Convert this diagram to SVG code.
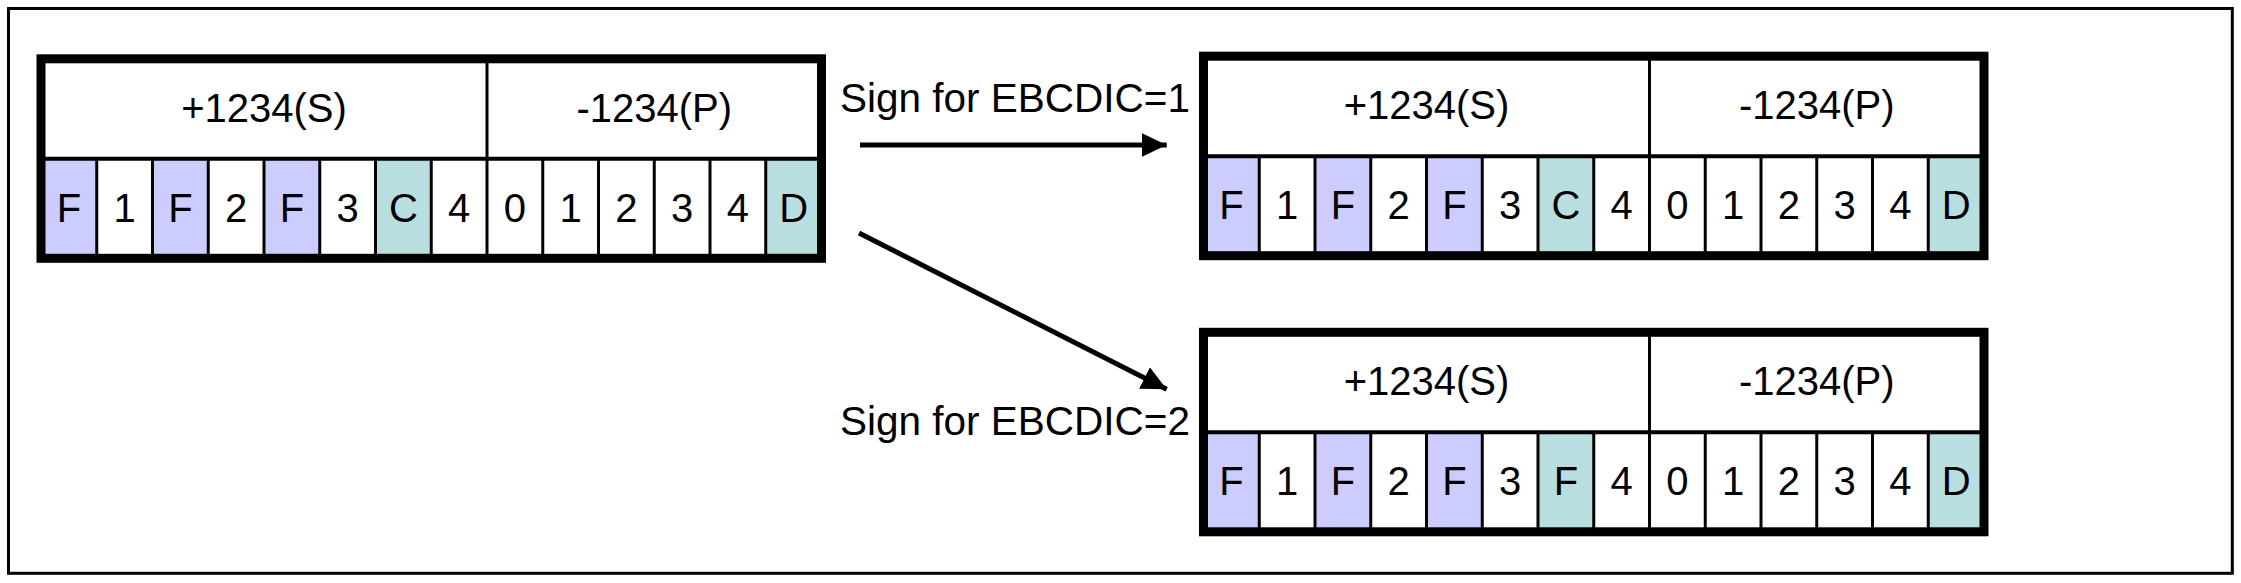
<svg xmlns="http://www.w3.org/2000/svg" width="2241" height="583" viewBox="0 0 2241 583">
<style>
.bg{fill:#ffffff}
.frame{fill:none;stroke:#000;stroke-width:3}
.outer{fill:none;stroke:#000;stroke-width:9}
.hdiv{stroke:#000;stroke-width:4}
.div{stroke:#000;stroke-width:3}
.lav{fill:#CCCCFF}
.teal{fill:#B8DEE0}
.t{font-family:"Liberation Sans",Arial,sans-serif;font-size:40px;fill:#000;text-anchor:middle}
.lbl{font-family:"Liberation Sans",Arial,sans-serif;font-size:40.5px;fill:#000}
.conn{stroke:#000;stroke-width:5;fill:none}
</style>
<defs>
<marker id="ah" markerUnits="userSpaceOnUse" markerWidth="26" markerHeight="24" refX="25" refY="12" orient="auto" viewBox="0 0 26 24">
<path d="M0,0 L25,12 L0,24 z" fill="#000"/>
</marker>
</defs>
<rect class="bg" x="0" y="0" width="2241" height="583"/>
<rect class="frame" x="8.5" y="8.5" width="2223.8" height="564.8"/>

<g id="table-source" transform="translate(41,58.8)">
<rect class="lav" x="0" y="100" width="55.75" height="99.5"/>
<rect class="lav" x="111.5" y="100" width="55.75" height="99.5"/>
<rect class="lav" x="223" y="100" width="55.75" height="99.5"/>
<rect class="teal" x="334.5" y="100" width="55.75" height="99.5"/>
<rect class="teal" x="724.75" y="100" width="55.75" height="99.5"/>
<line class="hdiv" x1="0" y1="100" x2="780.5" y2="100"/>
<line class="div" x1="446" y1="0" x2="446" y2="100"/>
<path class="div" d="M55.75,100V199.5M111.5,100V199.5M167.25,100V199.5M223,100V199.5M278.75,100V199.5M334.5,100V199.5M390.25,100V199.5M446,100V199.5M501.75,100V199.5M557.5,100V199.5M613.25,100V199.5M669,100V199.5M724.75,100V199.5"/>
<rect class="outer" x="0" y="0" width="780.5" height="199.5"/>
<text class="t" x="223" y="63">+1234(S)</text>
<text class="t" x="613.25" y="63">-1234(P)</text>
<text class="t" x="27.9" y="163">F</text>
<text class="t" x="83.6" y="163">1</text>
<text class="t" x="139.4" y="163">F</text>
<text class="t" x="195.1" y="163">2</text>
<text class="t" x="250.9" y="163">F</text>
<text class="t" x="306.6" y="163">3</text>
<text class="t" x="362.4" y="163">C</text>
<text class="t" x="418.1" y="163">4</text>
<text class="t" x="473.9" y="163">0</text>
<text class="t" x="529.6" y="163">1</text>
<text class="t" x="585.4" y="163">2</text>
<text class="t" x="641.1" y="163">3</text>
<text class="t" x="696.9" y="163">4</text>
<text class="t" x="752.6" y="163">D</text>
</g>

<g id="table-ebcdic1" transform="translate(1203.5,56.2)">
<rect class="lav" x="0" y="100" width="55.75" height="99.5"/>
<rect class="lav" x="111.5" y="100" width="55.75" height="99.5"/>
<rect class="lav" x="223" y="100" width="55.75" height="99.5"/>
<rect class="teal" x="334.5" y="100" width="55.75" height="99.5"/>
<rect class="teal" x="724.75" y="100" width="55.75" height="99.5"/>
<line class="hdiv" x1="0" y1="100" x2="780.5" y2="100"/>
<line class="div" x1="446" y1="0" x2="446" y2="100"/>
<path class="div" d="M55.75,100V199.5M111.5,100V199.5M167.25,100V199.5M223,100V199.5M278.75,100V199.5M334.5,100V199.5M390.25,100V199.5M446,100V199.5M501.75,100V199.5M557.5,100V199.5M613.25,100V199.5M669,100V199.5M724.75,100V199.5"/>
<rect class="outer" x="0" y="0" width="780.5" height="199.5"/>
<text class="t" x="223" y="63">+1234(S)</text>
<text class="t" x="613.25" y="63">-1234(P)</text>
<text class="t" x="27.9" y="163">F</text>
<text class="t" x="83.6" y="163">1</text>
<text class="t" x="139.4" y="163">F</text>
<text class="t" x="195.1" y="163">2</text>
<text class="t" x="250.9" y="163">F</text>
<text class="t" x="306.6" y="163">3</text>
<text class="t" x="362.4" y="163">C</text>
<text class="t" x="418.1" y="163">4</text>
<text class="t" x="473.9" y="163">0</text>
<text class="t" x="529.6" y="163">1</text>
<text class="t" x="585.4" y="163">2</text>
<text class="t" x="641.1" y="163">3</text>
<text class="t" x="696.9" y="163">4</text>
<text class="t" x="752.6" y="163">D</text>
</g>

<g id="table-ebcdic2" transform="translate(1203.5,332.3)">
<rect class="lav" x="0" y="100" width="55.75" height="99.5"/>
<rect class="lav" x="111.5" y="100" width="55.75" height="99.5"/>
<rect class="lav" x="223" y="100" width="55.75" height="99.5"/>
<rect class="teal" x="334.5" y="100" width="55.75" height="99.5"/>
<rect class="teal" x="724.75" y="100" width="55.75" height="99.5"/>
<line class="hdiv" x1="0" y1="100" x2="780.5" y2="100"/>
<line class="div" x1="446" y1="0" x2="446" y2="100"/>
<path class="div" d="M55.75,100V199.5M111.5,100V199.5M167.25,100V199.5M223,100V199.5M278.75,100V199.5M334.5,100V199.5M390.25,100V199.5M446,100V199.5M501.75,100V199.5M557.5,100V199.5M613.25,100V199.5M669,100V199.5M724.75,100V199.5"/>
<rect class="outer" x="0" y="0" width="780.5" height="199.5"/>
<text class="t" x="223" y="63">+1234(S)</text>
<text class="t" x="613.25" y="63">-1234(P)</text>
<text class="t" x="27.9" y="163">F</text>
<text class="t" x="83.6" y="163">1</text>
<text class="t" x="139.4" y="163">F</text>
<text class="t" x="195.1" y="163">2</text>
<text class="t" x="250.9" y="163">F</text>
<text class="t" x="306.6" y="163">3</text>
<text class="t" x="362.4" y="163">F</text>
<text class="t" x="418.1" y="163">4</text>
<text class="t" x="473.9" y="163">0</text>
<text class="t" x="529.6" y="163">1</text>
<text class="t" x="585.4" y="163">2</text>
<text class="t" x="641.1" y="163">3</text>
<text class="t" x="696.9" y="163">4</text>
<text class="t" x="752.6" y="163">D</text>
</g>

<g id="connectors">
<line class="conn" x1="860" y1="145" x2="1166.7" y2="145" marker-end="url(#ah)"/>
<line class="conn" x1="859" y1="233" x2="1166.7" y2="389.3" marker-end="url(#ah)"/>
<text class="lbl" x="840" y="111.7">Sign for EBCDIC=1</text>
<text class="lbl" x="840" y="435">Sign for EBCDIC=2</text>
</g>
</svg>
